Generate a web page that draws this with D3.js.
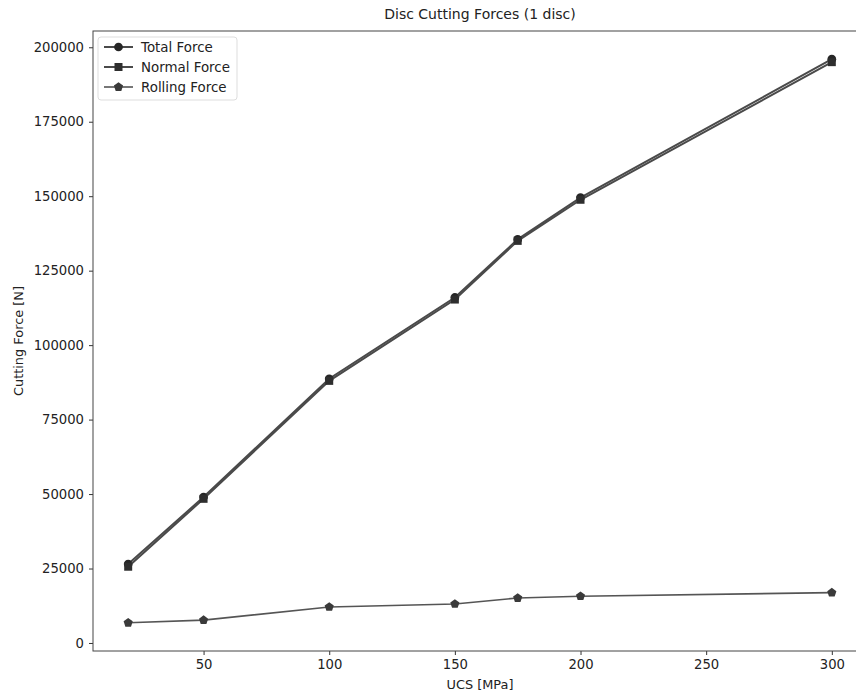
<!DOCTYPE html>
<html>
<head>
<meta charset="utf-8">
<script src="https://cdn.jsdelivr.net/npm/d3@7"></script>
<style>
  body { margin: 0; background: #fff; }
  text { font-family: "DejaVu Sans", sans-serif; fill: #222; }
</style>
</head>
<body>
<script>
  const ucs = [20, 50, 100, 150, 175, 200, 300];
  const totalForce = [26500, 49000, 88700, 116000, 135500, 149500, 196000];
  const normalForce = [25600, 48400, 88000, 115300, 135000, 148800, 195000];
  const rollingForce = [6770, 7670, 12100, 13100, 15100, 15700, 16900];
  const xTicks = [50, 100, 150, 200, 250, 300];
  const yTicks = [0, 25000, 50000, 75000, 100000, 125000, 150000, 175000, 200000];

  const w = 856, h = 694;
  const plotLeft = 93, plotRight = 867, plotTop = 31, plotBottom = 651;

  const svg = d3.select("body").append("svg")
    .attr("width", w).attr("height", h);

  // matplotlib style 5% margins
  const xmin = d3.min(ucs), xmax = d3.max(ucs);
  const xpad = (xmax - xmin) * 0.05;
  const x = d3.scaleLinear().domain([xmin - xpad, xmax + xpad]).range([plotLeft, plotRight]);

  const allY = totalForce.concat(normalForce, rollingForce);
  const ymin = d3.min(allY), ymax = d3.max(allY);
  const ypad = (ymax - ymin) * 0.05;
  const y = d3.scaleLinear().domain([ymin - ypad, ymax + ypad]).range([plotBottom, plotTop]);

  // axes
  const xAxis = svg.append("g")
    .attr("transform", `translate(0,${plotBottom})`)
    .call(d3.axisBottom(x).tickValues(xTicks).tickSize(4).tickPadding(5).tickFormat(d3.format("d")));
  const yAxis = svg.append("g")
    .attr("transform", `translate(${plotLeft},0)`)
    .call(d3.axisLeft(y).tickValues(yTicks).tickSize(4).tickPadding(5).tickFormat(d3.format("d")));
  [xAxis, yAxis].forEach(a => {
    a.selectAll("text").attr("font-size", "13.2px").style("fill", "#222");
    a.selectAll("line").attr("stroke", "#333");
    a.select(".domain").remove();
  });

  // frame
  svg.append("rect")
    .attr("x", plotLeft).attr("y", plotTop)
    .attr("width", plotRight - plotLeft).attr("height", plotBottom - plotTop)
    .attr("fill", "none").attr("stroke", "#444").attr("stroke-width", 1);

  // custom pentagon marker
  const pentagon = {
    draw(ctx, size) {
      const r = Math.sqrt(size / 2.378);
      for (let i = 0; i < 5; i++) {
        const a = -Math.PI / 2 + i * 2 * Math.PI / 5;
        const px = r * Math.cos(a), py = r * Math.sin(a);
        if (i === 0) ctx.moveTo(px, py); else ctx.lineTo(px, py);
      }
      ctx.closePath();
    }
  };

  const series = [
    { name: "Total Force", values: totalForce, symbol: d3.symbolCircle, size: 60, stroke: "#4a4a4a", width: 2, fill: "#262626" },
    { name: "Normal Force", values: normalForce, symbol: d3.symbolSquare, size: 64, stroke: "#4a4a4a", width: 2, fill: "#2e2e2e" },
    { name: "Rolling Force", values: rollingForce, symbol: pentagon, size: 55, stroke: "#555", width: 1.6, fill: "#3a3a3a" }
  ];

  const line = d3.line().x(d => x(d[0])).y(d => y(d[1]));

  series.forEach(s => {
    const pts = ucs.map((u, i) => [u, s.values[i]]);
    svg.append("path")
      .datum(pts)
      .attr("d", line)
      .attr("fill", "none")
      .attr("stroke", s.stroke)
      .attr("stroke-width", s.width);
    svg.selectAll(null)
      .data(pts)
      .enter()
      .append("path")
      .attr("transform", d => `translate(${x(d[0])},${y(d[1])})`)
      .attr("d", d3.symbol().type(s.symbol).size(s.size))
      .attr("fill", s.fill);
  });

  // legend
  const lg = svg.append("g");
  lg.append("rect")
    .attr("x", 98).attr("y", 37).attr("width", 139).attr("height", 63)
    .attr("rx", 3).attr("fill", "#fff").attr("fill-opacity", 0.8)
    .attr("stroke", "#ddd");
  series.forEach((s, i) => {
    const yy = 47 + i * 20;
    lg.append("line")
      .attr("x1", 104).attr("x2", 133).attr("y1", yy).attr("y2", yy)
      .attr("stroke", s.stroke).attr("stroke-width", s.width);
    lg.append("path")
      .attr("transform", `translate(118.5,${yy})`)
      .attr("d", d3.symbol().type(s.symbol).size(s.size))
      .attr("fill", s.fill);
    lg.append("text")
      .attr("x", 141).attr("y", yy).attr("dy", "0.35em")
      .attr("font-size", "13.4px")
      .text(s.name);
  });

  // titles
  svg.append("text")
    .attr("x", (plotLeft + plotRight) / 2).attr("y", 19)
    .attr("text-anchor", "middle")
    .attr("font-size", "14px")
    .text("Disc Cutting Forces (1 disc)");
  svg.append("text")
    .attr("x", (plotLeft + plotRight) / 2).attr("y", 689)
    .attr("text-anchor", "middle")
    .attr("font-size", "12.9px")
    .text("UCS [MPa]");
  svg.append("text")
    .attr("transform", `translate(23,${(plotTop + plotBottom) / 2}) rotate(-90)`)
    .attr("text-anchor", "middle")
    .attr("font-size", "12.9px")
    .text("Cutting Force [N]");
</script>
</body>
</html>
